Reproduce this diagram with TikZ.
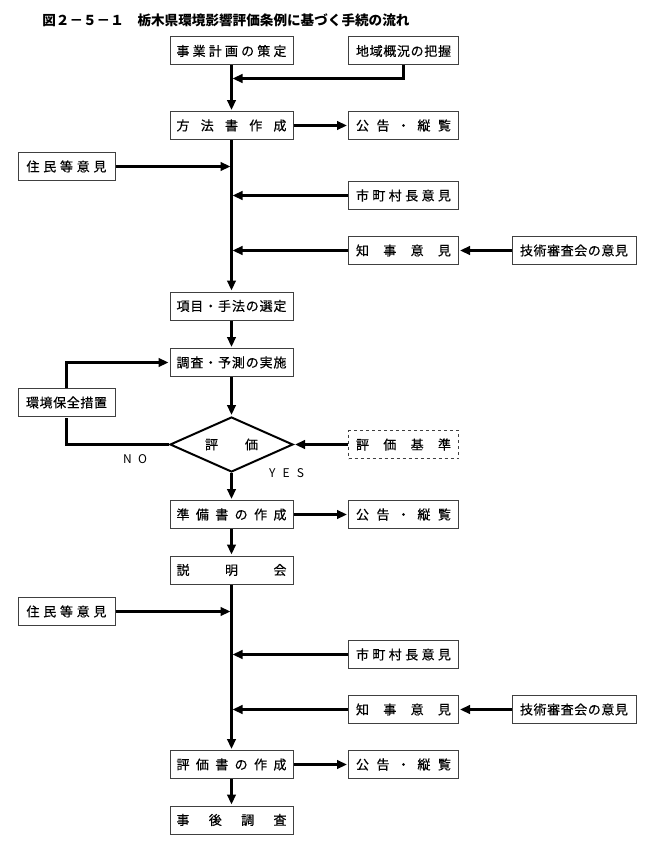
\documentclass[tikz,border=0pt]{standalone}
\usepackage{fontspec}
\setmainfont{Noto Sans CJK JP}
\newfontfamily\boxfont{Noto Sans CJK JP}[FakeBold=0.4]
\usetikzlibrary{arrows.meta,shapes.geometric}

% spread the characters of #2 evenly over width #1
\def\sprfirst#1{#1\sprrest}
\def\sprrest#1{\ifx\relax#1\else\hfill#1\expandafter\sprrest\fi}
\newcommand{\spreadbox}[2]{\hbox to #1{\sprfirst#2\relax}}

\begin{document}
\begin{tikzpicture}[x=1pt,y=-1pt,->,>={Triangle[length=10pt,width=8.5pt]},shorten >=1pt,
    line width=2.6pt,font=\boxfont\fontsize{13}{13}\selectfont,
    box/.style={draw=black!75,line width=1pt,minimum height=28pt,inner sep=0pt},
    main box/.style={box,minimum width=123pt},
    right box/.style={box,minimum width=110pt},
    left box/.style={box,minimum width=97pt},
    far box/.style={box,minimum width=124pt}]

\useasboundingbox (0,0) rectangle (650,851);

\node[anchor=west,inner sep=0pt,font=\fontsize{13.6}{14}\selectfont\bfseries] (title) at (41,20)
  {図２－５－１　栃木県環境影響評価条例に基づく手続の流れ};

% main column
\node[main box] (plan) at (231.5,51) {\spreadbox{110pt}{事業計画の策定}};
\node[main box] (method) at (231.5,125.5) {\spreadbox{110pt}{方法書作成}};
\node[main box] (items) at (231.5,306) {\spreadbox{110pt}{項目・手法の選定}};
\node[main box] (survey) at (231.5,362.5) {\spreadbox{110pt}{調査・予測の実施}};
\node[diamond,draw,line width=2pt,aspect=2.2,minimum width=123pt,minimum height=55pt,inner sep=0pt]
  (eval) at (231.5,444.5) {\spreadbox{53pt}{評価}};
\node[main box] (draft) at (231.5,514.5) {\spreadbox{110pt}{準備書の作成}};
\node[main box] (briefing) at (231.5,570) {\spreadbox{110pt}{説明会}};
\node[main box] (report) at (231.5,764.5) {\spreadbox{110pt}{評価書の作成}};
\node[main box] (followup) at (231.5,820) {\spreadbox{110pt}{事後調査}};

% right column
\node[right box] (area) at (403.5,51) {\spreadbox{95pt}{地域概況の把握}};
\node[right box] (notice1) at (403.5,125.5) {\spreadbox{95pt}{公告・縦覧}};
\node[right box] (mayor1) at (403.5,195.5) {\spreadbox{95pt}{市町村長意見}};
\node[right box] (gov1) at (403.5,250.5) {\spreadbox{95pt}{知事意見}};
\node[right box,dashed] (criteria) at (403.5,444.5) {\spreadbox{95pt}{評価基準}};
\node[right box] (notice2) at (403.5,514.5) {\spreadbox{95pt}{公告・縦覧}};
\node[right box] (mayor2) at (403.5,654.5) {\spreadbox{95pt}{市町村長意見}};
\node[right box] (gov2) at (403.5,709.5) {\spreadbox{95pt}{知事意見}};
\node[right box] (notice3) at (403.5,764.5) {\spreadbox{95pt}{公告・縦覧}};

% far right and left
\node[far box] (tech1) at (574,250.5) {\spreadbox{108pt}{技術審査会の意見}};
\node[far box] (tech2) at (574,709.5) {\spreadbox{108pt}{技術審査会の意見}};
\node[left box] (res1) at (66.5,166.5) {\spreadbox{80pt}{住民等意見}};
\node[left box] (measure) at (66.5,402.5) {\spreadbox{81pt}{環境保全措置}};
\node[left box] (res2) at (66.5,611.5) {\spreadbox{80pt}{住民等意見}};

\node[font=\fontsize{12}{12}\selectfont] (no) at (135,459) {\spreadbox{24pt}{NO}};
\node[font=\fontsize{12}{12}\selectfont] (yes) at (286.5,473) {\spreadbox{35pt}{YES}};

\coordinate (join) at (231.5,78.5);

% flow
\draw (plan) -- (method);
\draw (area.south) |- (join);
\draw (method) -- (notice1);
\draw (method) -- (items);
\draw (res1.east) -- (res1.east -| method.south);
\draw (mayor1.west) -- (mayor1.west -| method.south);
\draw (gov1.west) -- (gov1.west -| method.south);
\draw (tech1) -- (gov1);
\draw (items) -- (survey);
\draw (survey) -- (eval);
\draw (criteria) -- (eval);
\draw[-] (eval.west) -| (measure.south);
\draw (measure.north) |- (survey.west);
\draw (eval) -- (draft);
\draw (draft) -- (notice2);
\draw (draft) -- (briefing);
\draw (briefing) -- (report);
\draw (res2.east) -- (res2.east -| briefing.south);
\draw (mayor2.west) -- (mayor2.west -| briefing.south);
\draw (gov2.west) -- (gov2.west -| briefing.south);
\draw (tech2) -- (gov2);
\draw (report) -- (notice3);
\draw (report) -- (followup);

\end{tikzpicture}
\end{document}
